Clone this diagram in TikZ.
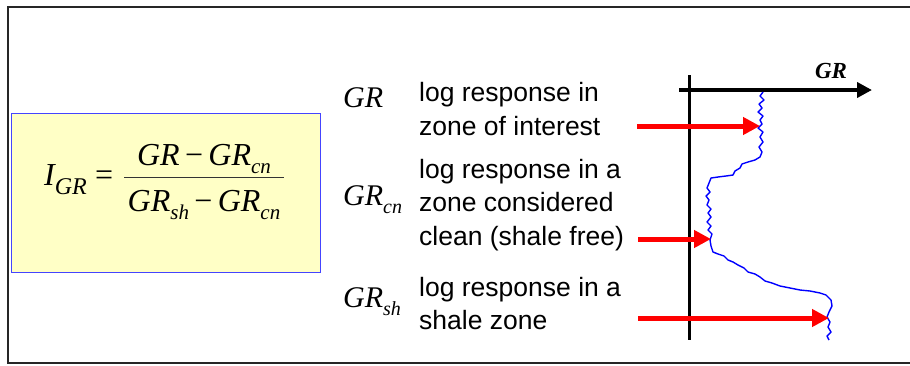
\documentclass[tikz,border=0pt]{standalone}
\usepackage{fontspec}
\setmainfont{Liberation Sans}
\newfontfamily\tnr{Liberation Serif}
\usetikzlibrary{arrows.meta}
\definecolor{boxfill}{HTML}{FFFFC6}
\definecolor{boxline}{HTML}{4444FF}
\newcommand{\gsub}[2]{{\fontsize{#1}{#1}\selectfont\raisebox{-0.4em}{#2}}}
\begin{document}
\begin{tikzpicture}[x=1pt,y=-1pt,
  frame/.style={line width=2.2pt,black!85},
  sansblock/.style={anchor=west,inner sep=0pt,align=left,font=\fontsize{26.5}{33.5}\selectfont},
  serlabel/.style={anchor=west,inner sep=0pt,font=\tnr\itshape\fontsize{30}{32}\selectfont},
  fml/.style={inner sep=0pt,font=\tnr\itshape\fontsize{32}{34}\selectfont},
  redarrow/.style={line width=5pt,red,-{Triangle[length=17pt,width=17pt]}},
  axisline/.style={line width=3pt,black},
  curve/.style={line width=1.4pt,blue,line join=round}]
\useasboundingbox (0,0) rectangle (910,365);
% outer frame
\draw[frame] (910,7) -- (8,7) -- (8,363) -- (910,363);
% formula box
\node[draw=boxline,fill=boxfill,line width=0.8pt,minimum width=309pt,minimum height=159pt,inner sep=0pt,anchor=north west] (box) at (11,113) {};
% formula
\node[fml,anchor=base west] (lhs) at (44,185) {I\gsub{24}{GR}};
\node[fml,anchor=base west,font=\tnr\fontsize{32}{34}\selectfont] (eq) at (95,185) {=};
\node[fml,anchor=base] (num) at (204,165) {GR\,{\upshape −}\,GR\gsub{21}{cn}};
\node[fml,anchor=base] (den) at (204,211) {GR\gsub{21}{sh}\,{\upshape −}\,GR\gsub{21}{cn}};
\draw[line width=1.1pt,black!80] (124,177.5) -- (284,177.5);
% labels
\node[serlabel] (l1) at (343,98) {GR};
\node[serlabel] (l2) at (343,200) {GR\gsub{20}{cn}};
\node[serlabel] (l3) at (343,302) {GR\gsub{20}{sh}};
\node[sansblock] (t1) at (419,109) {log response in\\zone of interest};
\node[sansblock] (t2) at (419,205) {log response in a\\zone considered\\clean (shale free)};
\node[sansblock] (t3) at (419,303.5) {log response in a\\shale zone};
% axes
\coordinate (vtop) at (689,75);
\coordinate (vbot) at (689,340);
\coordinate (hl) at (679,90);
\coordinate (hr) at (872,90);
\draw[axisline] (vtop) -- (vbot);
\draw[line width=4pt,-{Triangle[length=15pt,width=15pt]}] (hl) -- (hr);
\node[font=\tnr\itshape\bfseries\fontsize{23}{24}\selectfont,inner sep=0pt] (gr) at (831,71) {GR};
% log curve
\draw[curve] (763,92) -- (760,96) -- (764,100) -- (759,104) -- (762,108) -- (758,112) -- (763,116) -- (760,120) -- (762,124) -- (758,128) -- (763,132) -- (760,137) -- (763,142) -- (759,147) -- (762,152) -- (760,157) -- (755,160) -- (748,162) -- (742,164) -- (740,168) -- (735,171) -- (733,175) -- (726,176) -- (718,177) -- (711,178) -- (709,183) -- (707,188) -- (710,192) -- (706,196) -- (709,200) -- (707,205) -- (711,209) -- (708,213) -- (711,217) -- (707,222) -- (711,226) -- (708,230) -- (712,234) -- (710,240) -- (711,246) -- (713,252) -- (718,254) -- (724,256) -- (728,260) -- (733,262) -- (738,265) -- (744,268) -- (748,272) -- (755,274) -- (760,277) -- (765,281) -- (772,283) -- (780,286) -- (790,288) -- (800,290) -- (810,291) -- (820,293) -- (826,295) -- (831,300) -- (832,306) -- (829,312) -- (827,317) -- (830,322) -- (828,327) -- (831,332) -- (827,336) -- (829,340);
% red arrows
\coordinate (a1s) at (637,126); \coordinate (a1e) at (760,126);
\coordinate (a2s) at (638,239); \coordinate (a2e) at (711,239);
\coordinate (a3s) at (638,318); \coordinate (a3e) at (829,318);
\draw[redarrow] (a1s) -- (a1e);
\draw[redarrow] (a2s) -- (a2e);
\draw[redarrow] (a3s) -- (a3e);
\end{tikzpicture}
\end{document}
